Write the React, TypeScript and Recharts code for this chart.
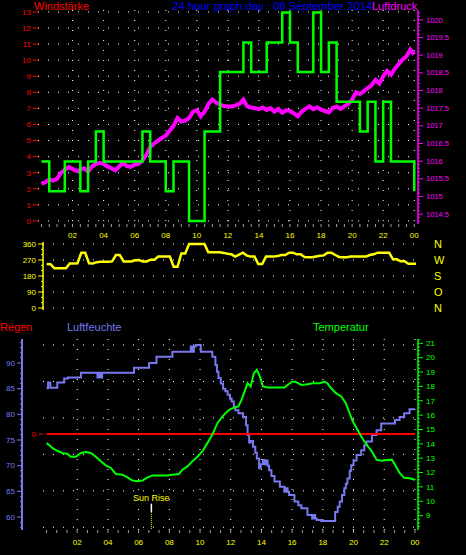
import React from 'react';
import { ComposedChart, Line, XAxis, YAxis, CartesianGrid, ReferenceArea, ReferenceLine, ReferenceDot } from 'recharts';

const FONT = '"Liberation Sans", Arial, sans-serif';

// ---------- data ----------
// wind speed (km/h), one value per half hour 00:00 .. 24:00 (step after)
const windValues = [3.7, 1.85, 1.85, 3.7, 3.7, 1.85, 3.7, 5.56, 3.7, 3.7, 3.7, 3.7, 3.7, 5.56, 3.7, 3.7, 1.85, 3.7, 3.7, 0, 0, 5.56, 5.56, 9.26, 9.26, 9.26, 11.1, 9.26, 9.26, 11.1, 11.1, 12.96, 11.1, 9.26, 9.26, 12.96, 9.26, 11.1, 7.41, 7.41, 7.41, 5.56, 7.41, 3.7, 7.41, 3.7, 3.7, 3.7, 1.85];

// air pressure (hPa), one value per quarter hour
const pressureValues = [
  1015.36, 1015.40, 1015.48, 1015.45,
  1015.50, 1015.67, 1015.75, 1015.83,
  1015.78, 1015.72, 1015.76, 1015.80,
  1015.70, 1015.85, 1015.92, 1015.95,
  1015.92, 1015.85, 1015.80, 1015.74,
  1015.85, 1015.95, 1015.86, 1015.84,
  1015.90, 1015.92, 1016.02, 1016.18,
  1016.40, 1016.50, 1016.58, 1016.66,
  1016.72, 1016.86, 1017.00, 1017.22,
  1017.12, 1017.15, 1017.22, 1017.40,
  1017.45, 1017.27, 1017.40, 1017.62,
  1017.74, 1017.66, 1017.60, 1017.56,
  1017.55, 1017.55, 1017.58, 1017.62,
  1017.74, 1017.55, 1017.52, 1017.50,
  1017.47, 1017.52, 1017.45, 1017.50,
  1017.40, 1017.48, 1017.37, 1017.44,
  1017.42, 1017.35, 1017.27, 1017.40,
  1017.48, 1017.55, 1017.47, 1017.52,
  1017.46, 1017.42, 1017.38, 1017.50,
  1017.55, 1017.48, 1017.55, 1017.62,
  1017.74, 1017.95, 1017.90, 1017.98,
  1018.07, 1018.15, 1018.30, 1018.20,
  1018.40, 1018.55, 1018.45, 1018.62,
  1018.75, 1018.88, 1018.97, 1019.16,
  1019.02,
];

// wind direction (degrees), one value per quarter hour
const directionValues = [
  248, 246, 223, 223,
  223, 223, 251, 251,
  252, 311, 311, 252,
  251, 258, 260, 260,
  260, 262, 298, 298,
  262, 262, 262, 268,
  270, 262, 262, 272,
  272, 289, 289, 289,
  289, 232, 232, 307,
  307, 360, 360, 360,
  360, 360, 313, 313,
  313, 313, 310, 305,
  302, 289, 300, 311,
  295, 289, 289, 247,
  247, 289, 289, 289,
  292, 298, 298, 311,
  311, 302, 302, 287,
  285, 285, 290, 294,
  296, 311, 311, 298,
  287, 285, 286, 289,
  289, 289, 289, 290,
  298, 302, 311, 311,
  311, 311, 274, 274,
  263, 263, 249, 249,
  249,
];

const humidityHours = [0, 0.1, 0.25, 0.7, 1.15, 1.4, 2.24, 3.32, 3.42, 3.52, 3.62, 5.7, 6.68, 7.16, 8.2, 9.4, 9.5, 9.6, 9.72, 10.05, 10.8, 11.0, 11.1, 11.2, 11.35, 11.5, 11.65, 11.8, 11.95, 12.06, 12.2, 12.3, 12.5, 12.8, 13.0, 13.1, 13.2, 13.3, 13.45, 13.6, 13.7, 13.85, 13.95, 14.1, 14.2, 14.3, 14.4, 14.5, 14.65, 14.85, 15.2, 15.5, 15.6, 15.7, 15.8, 16.15, 16.4, 16.6, 17.0, 17.3, 17.4, 17.5, 17.6, 17.9, 18.8, 18.97, 19.1, 19.25, 19.4, 19.5, 19.6, 19.75, 19.85, 20.0, 20.2, 20.5, 20.7, 20.85, 21.2, 21.5, 21.8, 22.7, 23.0, 23.3, 23.65, 24];
const humidityValues = [85.1, 86.2, 85.2, 86.2, 87.0, 87.2, 88.1, 87.2, 88.1, 87.2, 88.1, 89.1, 90.0, 91.2, 92.2, 93.2, 92.2, 93.2, 93.5, 92.2, 91.2, 89.6, 88.3, 87.1, 86.0, 85.0, 84.5, 83.8, 83.1, 82.5, 81.5, 80.8, 80.2, 79.5, 77.9, 76.0, 74.5, 74.8, 73.7, 72.5, 71.4, 69.5, 70.3, 71.1, 70.3, 71.0, 70.0, 69.1, 68.0, 66.9, 65.9, 64.9, 65.6, 64.9, 64.3, 63.0, 62.3, 61.7, 60.4, 59.7, 60.4, 59.7, 59.4, 59.2, 61.0, 62.0, 63.0, 64.3, 65.6, 66.5, 67.5, 69.0, 70.1, 71.0, 72.1, 73.0, 74.0, 74.7, 76.0, 76.9, 78.2, 78.9, 79.5, 80.2, 81.0, 81.0];

const temperatureHours = [0, 0.2, 0.39, 0.72, 1.04, 1.37, 1.58, 1.91, 2.24, 2.56, 2.89, 3.21, 3.54, 3.86, 4.19, 4.51, 4.95, 5.27, 5.6, 5.93, 6.25, 6.58, 6.9, 7.88, 8.2, 8.63, 8.85, 9.18, 9.5, 9.83, 10.15, 10.48, 10.8, 11.13, 11.45, 11.77, 12.0, 12.5, 12.7, 12.9, 13.1, 13.3, 13.5, 13.7, 13.9, 14.1, 14.4, 15.5, 15.7, 16.0, 16.2, 16.6, 17.0, 17.35, 17.8, 18.1, 18.3, 18.5, 18.85, 19.2, 19.5, 19.7, 19.95, 20.2, 20.5, 20.85, 21.2, 21.5, 21.8, 22.5, 22.7, 23.0, 23.3, 23.65, 24];
const temperatureValues = [14.05, 13.9, 13.7, 13.5, 13.36, 13.3, 13.1, 13.1, 13.36, 13.43, 13.36, 13.1, 12.78, 12.5, 12.32, 11.9, 11.85, 11.67, 11.44, 11.39, 11.44, 11.67, 11.8, 11.8, 11.85, 11.9, 12.2, 12.43, 12.78, 13.1, 13.47, 14.05, 14.63, 15.44, 15.9, 16.25, 16.44, 16.6, 17.06, 17.64, 18.22, 17.99, 18.9, 19.15, 18.68, 18.0, 17.92, 17.92, 18.1, 18.33, 18.33, 18.1, 18.15, 18.22, 18.22, 18.33, 18.22, 17.92, 17.53, 17.3, 16.83, 16.25, 15.56, 15.1, 14.51, 13.94, 13.47, 12.9, 12.83, 12.9, 12.55, 11.97, 11.63, 11.6, 11.5];

const rainHours = [0, 6, 12, 18, 24];
const rainValues = [0, 0, 0, 0, 0];

const sunRiseHour = 6.83;

// ---------- tick labels ----------
const hourLabels = ['02', '04', '06', '08', '10', '12', '14', '16', '18', '20', '22', '00'];
const windTicks = [0, 1, 2, 3, 4, 5, 6, 7, 8, 9, 10, 11, 12, 13];
const pressureLabels = [1014.5, 1015, 1015.5, 1016, 1016.5, 1017, 1017.5, 1018, 1018.5, 1019, 1019.5, 1020];
const directionLabels = [0, 90, 180, 270, 360];
const compassLabels = ['N', 'O', 'S', 'W', 'N'];
const humidityLabels = [60, 65, 70, 75, 80, 85, 90];
const temperatureLabels = [9, 10, 11, 12, 13, 14, 15, 16, 17, 18, 19, 20, 21];
const rainLabels = [0];
const gridRows = [0, 1, 2, 3, 4, 5, 6, 7, 8, 9, 10];

// ---------- derived tables ----------
const labelHours = hourLabels.map((_, i) => 2 * (i + 1));
const near = (a: number, b: number) => Math.abs(a - b) < 1e-6;
const hourFmt = (v: number) => {
  const k = labelHours.findIndex((h) => near(h, v));
  return k >= 0 ? hourLabels[k] : '';
};
const halfHourTicks = Array.from({ length: 49 }, (_, i) => i / 2);
const twoThirdTicks = Array.from({ length: 37 }, (_, i) => (i * 2) / 3);

const windData = windValues.map((v, i) => ({ h: i / 2, v }));
const pressureData = pressureValues.map((v, i) => ({ h: i / 4, v }));
const directionData = directionValues.map((v, i) => ({ h: i / 4, v }));
const humidityData = humidityHours.map((h, i) => ({ h, v: humidityValues[i] }));
const temperatureData = temperatureHours.map((h, i) => ({ h, v: temperatureValues[i] }));
const rainData = rainHours.map((h, i) => ({ h, v: rainValues[i] }));

const pressureTicks = Array.from({ length: 60 }, (_, i) => Math.round((1014.3 + i * 0.1) * 10) / 10);
const temperatureTicks = Array.from({ length: 53 }, (_, i) => 8.25 + i * 0.25);
const humidityTicks = Array.from({ length: 37 }, (_, i) => 58 + i);
const directionTicks = Array.from({ length: 13 }, (_, i) => i * 30);

type TickOpts = {
  side: 'left' | 'right';
  color: string;
  labels: number[];
  fmt: (v: number) => string;
  major: number;
  minor: number;
  gap: number;
  fontSize: number;
};
const rulerTick = (o: TickOpts) => (props: any) => {
  const { x, y, payload } = props;
  const v = payload.value as number;
  const isMajor = o.labels.some((l) => near(l, v));
  const len = isMajor ? o.major : o.minor;
  const dir = o.side === 'left' ? -1 : 1;
  return (
    <g>
      <line x1={x} y1={y} x2={x + dir * len} y2={y} stroke={o.color} strokeWidth={1} />
      {isMajor ? (
        <text
          x={x + dir * (len + o.gap)}
          y={y}
          dy="0.35em"
          textAnchor={o.side === 'left' ? 'end' : 'start'}
          fill={o.color}
          fontSize={o.fontSize}
          fontFamily={FONT}
        >
          {o.fmt(v)}
        </text>
      ) : null}
    </g>
  );
};

const C_WIND = '#00ff00';
const C_PRESS = '#ff00ff';
const C_DIR = '#ffff00';
const C_HUM = '#7878f0';
const C_TEMP = '#00ff00';
const C_RAIN = '#ff0000';
const C_BORDER = '#dcdcdc';
const C_TICK = '#a0a0a0';

// axis ids (ordering of ids decides which left axis sits next to the plot)
const RAIN = 'ax1rain';
const HUM = 'ax2hum';

const gridProps = { stroke: '#ffffff', strokeDasharray: '1 9', strokeWidth: 1 };

export default function App() {
  return (
    <div style={{ position: 'absolute', left: 0, top: 0, width: 466, height: 555, background: '#000', overflow: 'hidden' }}>
      {/* top panel: wind + pressure */}
      <div style={{ position: 'absolute', left: 0, top: 0 }}>
        <ComposedChart width={466} height={245} margin={{ top: 10, right: 0, bottom: 0, left: 0 }}>
          <CartesianGrid xAxisId="x" yAxisId="wind" {...gridProps} horizontalValues={windTicks} verticalValues={labelHours} />
          <XAxis
            xAxisId="x"
            type="number"
            dataKey="h"
            domain={[-0.225, 24.24]}
            allowDataOverflow
            ticks={halfHourTicks}
            interval={0}
            tickFormatter={hourFmt}
            tickSize={3}
            tickMargin={5}
            tickLine={{ stroke: C_TICK }}
            axisLine={false}
            tick={{ fill: '#ffff00', fontSize: 8, fontFamily: FONT }}
            height={21}
          />
          <YAxis
            yAxisId="wind"
            orientation="left"
            width={38}
            domain={[-0.19, 13.12]}
            allowDataOverflow
            ticks={windTicks}
            interval={0}
            tickSize={5}
            tickMargin={2}
            tickLine={{ stroke: '#ff0000' }}
            axisLine={false}
            tick={{ fill: '#ff0000', fontSize: 8, fontFamily: FONT }}
          />
          <YAxis
            yAxisId="press"
            orientation="right"
            width={48}
            domain={[1014.22, 1020.28]}
            allowDataOverflow
            ticks={pressureTicks}
            interval={0}
            tickSize={0}
            tickMargin={0}
            tickLine={false}
            axisLine={{ stroke: C_PRESS, strokeWidth: 1.5 }}
            tick={rulerTick({ side: 'right', color: C_PRESS, labels: pressureLabels, fmt: (v) => String(v), major: 5, minor: 2, gap: 3, fontSize: 7.5 })}
          />
          <ReferenceArea xAxisId="x" yAxisId="wind" fill="none" stroke={C_BORDER} strokeWidth={1.5} ifOverflow="visible" />
          <Line xAxisId="x" yAxisId="press" data={pressureData} dataKey="v" type="linear" stroke={C_PRESS} strokeWidth={4} dot={false} activeDot={false} isAnimationActive={false} />
          <Line xAxisId="x" yAxisId="wind" data={windData} dataKey="v" type="stepAfter" stroke={C_WIND} strokeWidth={2.5} dot={false} activeDot={false} isAnimationActive={false} />
        </ComposedChart>
      </div>

      {/* middle panel: wind direction */}
      <div style={{ position: 'absolute', left: 0, top: 230 }}>
        <ComposedChart width={466} height={90} margin={{ top: 12, right: 0, bottom: 10, left: 0 }}>
          <CartesianGrid xAxisId="x" yAxisId="dir" {...gridProps} vertical={false} horizontalValues={directionLabels} />
          <XAxis xAxisId="x" type="number" dataKey="h" domain={[-0.24, 24.06]} allowDataOverflow hide />
          <YAxis
            yAxisId="dir"
            orientation="left"
            width={43}
            domain={[-11.25, 371.25]}
            allowDataOverflow
            ticks={directionTicks}
            interval={0}
            tickSize={0}
            tickMargin={0}
            tickLine={false}
            axisLine={{ stroke: C_DIR, strokeWidth: 1.5 }}
            tick={rulerTick({ side: 'left', color: C_DIR, labels: directionLabels, fmt: (v) => String(v), major: 5, minor: 2, gap: 2, fontSize: 8 })}
          />
          <YAxis
            yAxisId="compass"
            orientation="right"
            width={49}
            domain={[-11.25, 371.25]}
            allowDataOverflow
            ticks={directionLabels}
            interval={0}
            tickSize={0}
            tickMargin={17}
            tickLine={false}
            axisLine={false}
            tickFormatter={(v: number) => compassLabels[directionLabels.indexOf(v)] ?? ''}
            tick={{ fill: C_DIR, fontSize: 11, fontFamily: FONT }}
          />
          <ReferenceArea xAxisId="x" yAxisId="dir" fill="none" stroke={C_BORDER} strokeWidth={1.5} ifOverflow="visible" />
          <Line xAxisId="x" yAxisId="dir" data={directionData} dataKey="v" type="linear" stroke={C_DIR} strokeWidth={2.5} dot={false} activeDot={false} isAnimationActive={false} />
        </ComposedChart>
      </div>

      {/* bottom panel: humidity, temperature, rain */}
      <div style={{ position: 'absolute', left: 0, top: 330 }}>
        <ComposedChart width={466} height={225} margin={{ top: 9, right: 0, bottom: 0, left: 0 }}>
          <CartesianGrid xAxisId="x" yAxisId="g" {...gridProps} horizontalValues={gridRows} verticalValues={labelHours} />
          <XAxis
            xAxisId="x"
            type="number"
            dataKey="h"
            domain={[-0.23, 24.2]}
            allowDataOverflow
            ticks={twoThirdTicks}
            interval={0}
            tickFormatter={hourFmt}
            tickSize={3}
            tickMargin={6}
            tickLine={{ stroke: C_TICK }}
            axisLine={false}
            tick={{ fill: '#ffff00', fontSize: 8, fontFamily: FONT }}
            height={25}
          />
          <YAxis
            yAxisId={RAIN}
            orientation="left"
            width={21}
            domain={[-1, 0.99]}
            allowDataOverflow
            ticks={rainLabels}
            interval={0}
            tickSize={4}
            tickMargin={3}
            tickLine={{ stroke: C_RAIN }}
            axisLine={false}
            tick={{ fill: C_RAIN, fontSize: 8, fontFamily: FONT }}
          />
          <YAxis
            yAxisId={HUM}
            orientation="left"
            width={22}
            domain={[57.47, 94.68]}
            allowDataOverflow
            ticks={humidityTicks}
            interval={0}
            tickSize={0}
            tickMargin={0}
            tickLine={false}
            axisLine={{ stroke: C_HUM, strokeWidth: 2 }}
            tick={rulerTick({ side: 'left', color: C_HUM, labels: humidityLabels, fmt: (v) => String(v), major: 5, minor: 2, gap: 2, fontSize: 8 })}
          />
          <YAxis
            yAxisId="temp"
            orientation="right"
            width={48}
            domain={[8.0, 21.3]}
            allowDataOverflow
            ticks={temperatureTicks}
            interval={0}
            tickSize={0}
            tickMargin={0}
            tickLine={false}
            axisLine={{ stroke: C_TEMP, strokeWidth: 1.5 }}
            tick={rulerTick({ side: 'right', color: C_TEMP, labels: temperatureLabels, fmt: (v) => String(v), major: 5, minor: 2, gap: 3, fontSize: 8 })}
          />
          <YAxis yAxisId="g" hide width={0} domain={[-0.15, 10.33]} allowDataOverflow />
          <ReferenceArea xAxisId="x" yAxisId={HUM} fill="none" stroke={C_BORDER} strokeWidth={1.5} ifOverflow="visible" />
          <ReferenceLine xAxisId="x" yAxisId={HUM} segment={[{ x: sunRiseHour, y: 61 }, { x: sunRiseHour, y: 57.6 }]} stroke="#ffff00" strokeDasharray="1 1" ifOverflow="visible" />
          <ReferenceLine xAxisId="x" yAxisId={HUM} segment={[{ x: sunRiseHour, y: 62.6 }, { x: sunRiseHour, y: 61 }]} stroke="#ffffff" strokeWidth={1.5} ifOverflow="visible" />
          <ReferenceDot
            xAxisId="x"
            yAxisId={HUM}
            x={sunRiseHour}
            y={62.6}
            r={0}
            fill="none"
            stroke="none"
            ifOverflow="visible"
            label={{ value: 'Sun Rise', position: 'top', offset: 3, fill: '#ffff00', fontSize: 9, fontFamily: FONT }}
          />
          <Line xAxisId="x" yAxisId={HUM} data={humidityData} dataKey="v" type="stepAfter" stroke={C_HUM} strokeWidth={2} dot={false} activeDot={false} isAnimationActive={false} />
          <Line xAxisId="x" yAxisId={RAIN} data={rainData} dataKey="v" type="linear" stroke={C_RAIN} strokeWidth={2} dot={false} activeDot={false} isAnimationActive={false} />
          <Line xAxisId="x" yAxisId="temp" data={temperatureData} dataKey="v" type="linear" stroke={C_TEMP} strokeWidth={2} dot={false} activeDot={false} isAnimationActive={false} />
        </ComposedChart>
      </div>

      {/* titles */}
      <svg width={466} height={555} style={{ position: 'absolute', left: 0, top: 0, pointerEvents: 'none' }}>
        <g fontFamily={FONT} fontSize={11}>
          <text x={34} y={9.5} fill="#ff0000">Windstärke</text>
          <text x={172} y={9.5} fill="#0000ff" fontSize={11.3}>24 hour graph day : 08 September 2014</text>
          <text x={372} y={9.5} fill="#ff00ff">Luftdruck</text>
          <text x={0} y={330.5} fill="#ff0000">Regen</text>
          <text x={67} y={330.5} fill={C_HUM}>Luftfeuchte</text>
          <text x={313} y={330.5} fill="#00ff00">Temperatur</text>
        </g>
      </svg>
    </div>
  );
}
